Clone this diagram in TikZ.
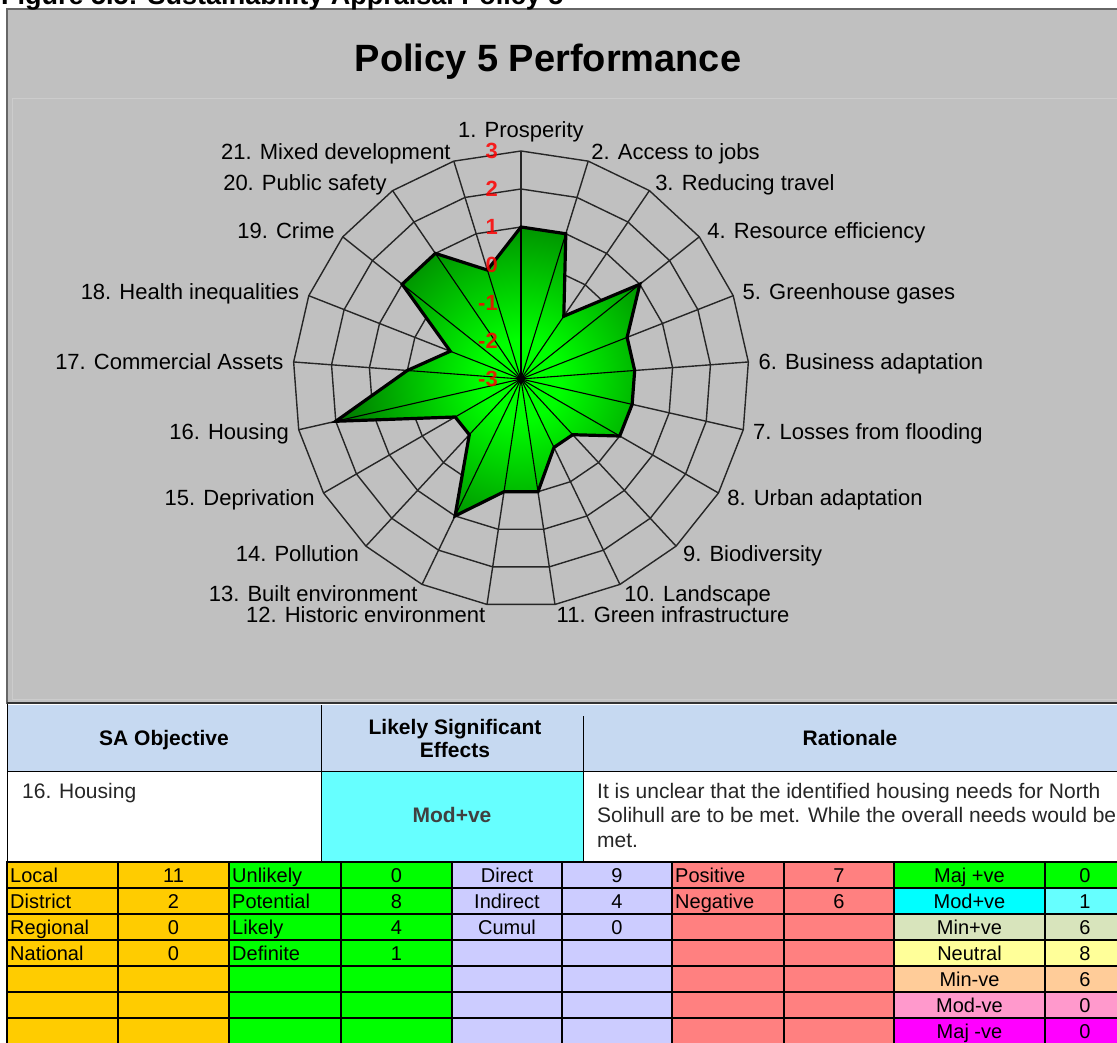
\documentclass[tikz,border=0pt]{standalone}
\usepackage{fontspec}
\setmainfont{Liberation Sans}
\usetikzlibrary{calc}

\definecolor{chartgrey}{HTML}{C0C0C0}
\definecolor{spiderline}{HTML}{262626}
\definecolor{leaflight}{HTML}{00FF00}
\definecolor{leafdark}{HTML}{005E00}
\definecolor{hdrblue}{HTML}{C6D9F1}
\definecolor{modcyan}{HTML}{66FFFF}
\definecolor{brightcyan}{HTML}{00FFFF}
\definecolor{scaleorange}{HTML}{FFCC00}
\definecolor{probgreen}{HTML}{00FF00}
\definecolor{typelav}{HTML}{CCCCFF}
\definecolor{signred}{HTML}{FF8080}
\definecolor{minpos}{HTML}{D8E4BC}
\definecolor{neutyellow}{HTML}{FFFF99}
\definecolor{minneg}{HTML}{FFCC99}
\definecolor{modneg}{HTML}{FF99CC}
\definecolor{majneg}{HTML}{FF00FF}

\pgfdeclareradialshading{leaf}{\pgfpoint{0bp}{0bp}}{color(0bp)=(leaflight); color(4bp)=(leaflight); color(21bp)=(leafdark); color(50bp)=(leafdark)}

\tikzset{
  spoke/.style={draw=spiderline, line width=1.4pt},
  axlabel/.style={font=\fontsize{22}{22}\selectfont, inner sep=0pt, text height=15.8pt, text depth=0pt},
  ringnum/.style={font=\bfseries\fontsize{22}{22}\selectfont, text=red, text opacity=0.85, inner sep=0pt, text height=15.8pt, text depth=0pt, anchor=east},
  hdr/.style={font=\bfseries\fontsize{21}{21}\selectfont, inner sep=0pt, text height=15.1pt, text depth=0pt},
  bodytext/.style={font=\fontsize{21}{21}\selectfont, inner sep=0pt, text height=15.1pt, text depth=0pt, text=black!85},
  cell/.style={font=\fontsize{20}{20}\selectfont, inner sep=0pt, text height=14.4pt, text depth=0pt},
  gridrule/.style={line width=2.4pt, black},
  thinrule/.style={line width=1pt, black}
}

\begin{document}
\begin{tikzpicture}[x=1pt,y=-1pt]
\useasboundingbox (0,0) rectangle (1117,1043);
\clip (0,0) rectangle (1117,1043);

%% chart frame
\fill[chartgrey] (7,9) rectangle (1130,704);
\draw[black!20] (12,98) rectangle (1130,699);
\draw[black!60, line width=1.5pt] (1130,9) -- (7,9) -- (7,704);
\draw[black!80, line width=2pt] (7,703) -- (1130,703);

%% caption, cut by the page edge
\node[anchor=base west, inner sep=0pt, font=\bfseries\fontsize{27}{27}\selectfont] (figcap) at (1,5) {Figure 5.5: Sustainability Appraisal Policy 5};
\node[font=\bfseries\fontsize{38}{38}\selectfont, inner sep=0pt, text height=27.4pt, text depth=0pt] (charttitle) at (548,58) {Policy 5 Performance};

\coordinate (C) at (521,379);
\begin{scope}[shift={(C)}]
%% rings and spokes
\foreach \r in {38,76,...,228}
  \draw[spoke] (90:\r pt) \foreach \k in {1,...,20} { -- ({90-\k*360/21}:\r pt) } -- cycle;
\foreach \k in {0,...,20}
  \draw[spoke] (0,0) -- ({90-\k*360/21}:228pt);

%% scores
\foreach \v [count=\k from 0] in {1,1,-1,1,0,0,0,0,-1,-1,0,0,1,-1,-1,2,0,-1,1,1,0} {
  \pgfmathsetmacro\rr{(\v+3)*38}
  \coordinate (s\k) at ({90-\k*360/21}:\rr pt);
}
\begin{scope}
  \clip (s0) \foreach \k in {1,...,20} { -- (s\k) } -- cycle;
  \shade[shading=leaf] (0,0) circle (250pt);
  \foreach \k in {0,...,20} \draw[black, line width=1.1pt] (0,0) -- (s\k);
\end{scope}
\draw[black, line width=3.2pt, line join=miter] (s0) \foreach \k in {1,...,20} { -- (s\k) } -- cycle;
\fill[black] (0,0) circle (4pt);

\foreach \v in {-3,...,3}
  \node[ringnum] (rn\v) at (-23pt,{(\v+3)*38pt}) {\v};

%% axis names
\node[axlabel] (lab0) at (90:249pt) {1. Prosperity};
\foreach \k/\txt in {1/2. Access to jobs, 2/3. Reducing travel, 3/4. Resource efficiency,
    4/5. Greenhouse gases, 5/6. Business adaptation, 6/7. Losses from flooding,
    7/8. Urban adaptation, 8/9. Biodiversity, 9/10. Landscape, 10/11. Green infrastructure}
  \node[axlabel, anchor=west] (lab\k) at ({90-\k*360/21}:238pt) {\txt};
\foreach \k/\txt in {11/12. Historic environment, 12/13. Built environment, 13/14. Pollution,
    14/15. Deprivation, 15/16. Housing, 16/17. Commercial Assets, 17/18. Health inequalities,
    18/19. Crime, 19/20. Public safety, 20/21. Mixed development}
  \node[axlabel, anchor=east] (lab\k) at ({90-\k*360/21}:238pt) {\txt};
\end{scope}

%% summary table
\fill[hdrblue] (7,705) rectangle (1130,771);
\fill[white] (7,771) rectangle (1130,861);
\fill[modcyan] (321,771) rectangle (583,861);
\draw[thinrule] (7,771) -- (1130,771);
\draw[thinrule] (321,705) -- (321,861);
\draw[thinrule] (583,716) -- (583,861);
\draw[thinrule] (7,704) -- (7,1044);

\node[hdr] (hobj) at (164,738) {SA Objective};
\node[hdr] (heff1) at (455,727) {Likely Significant};
\node[hdr] (heff2) at (455,750) {Effects};
\node[hdr] (hrat) at (850,738) {Rationale};

\node[bodytext, anchor=west] (objective) at (22,791) {16. Housing};
\node[hdr, text=black!75] (effect) at (452,815) {Mod+ve};
\node[bodytext, anchor=west] (rat1) at (597,791) {It is unclear that the identified housing needs for North};
\node[bodytext, anchor=west] (rat2) at (597,815) {Solihull are to be met. While the overall needs would be};
\node[bodytext, anchor=west] (rat3) at (597,840) {met.};

%% counts grid
\fill[scaleorange] (7,861) rectangle (229,1044);
\fill[probgreen] (229,861) rectangle (452,1044);
\fill[typelav] (452,861) rectangle (672,1044);
\fill[signred] (672,861) rectangle (894,1044);
\foreach \c/\d [count=\i from 0] in {probgreen/probgreen, brightcyan/modcyan, minpos/minpos,
    neutyellow/neutyellow, minneg/minneg, modneg/modneg, majneg/majneg} {
  \fill[\c] (894,{862+26*\i}) rectangle (1045,{888+26*\i});
  \fill[\d] (1045,{862+26*\i}) rectangle (1130,{888+26*\i});
}
\foreach \x in {7,118,229,341,452,562,672,784,894,1045}
  \draw[gridrule] (\x,861) -- (\x,1044);
\foreach \y in {862,888,...,1018}
  \draw[gridrule] (7,\y) -- (1130,\y);

\foreach \t/\n [count=\i from 0] in {Local/11, District/2, Regional/0, National/0} {
  \node[cell, anchor=west] (sc\i) at (10,{875+26*\i}) {\t};
  \node[cell] (scn\i) at (173.5,{875+26*\i}) {\n};
}
\foreach \t/\n [count=\i from 0] in {Unlikely/0, Potential/8, Likely/4, Definite/1} {
  \node[cell, anchor=west] (lk\i) at (232,{875+26*\i}) {\t};
  \node[cell] (lkn\i) at (396.5,{875+26*\i}) {\n};
}
\foreach \t/\n [count=\i from 0] in {Direct/9, Indirect/4, Cumul/0} {
  \node[cell] (ty\i) at (507,{875+26*\i}) {\t};
  \node[cell] (tyn\i) at (617,{875+26*\i}) {\n};
}
\foreach \t/\n [count=\i from 0] in {Positive/7, Negative/6} {
  \node[cell, anchor=west] (sg\i) at (675,{875+26*\i}) {\t};
  \node[cell] (sgn\i) at (839,{875+26*\i}) {\n};
}
\foreach \t/\n [count=\i from 0] in {Maj +ve/0, Mod+ve/1, Min+ve/6, Neutral/8, Min-ve/6, Mod-ve/0, Maj -ve/0} {
  \node[cell] (ef\i) at (969.5,{875+26*\i}) {\t};
  \node[cell] (efn\i) at (1085,{875+26*\i}) {\n};
}
\end{tikzpicture}
\end{document}
